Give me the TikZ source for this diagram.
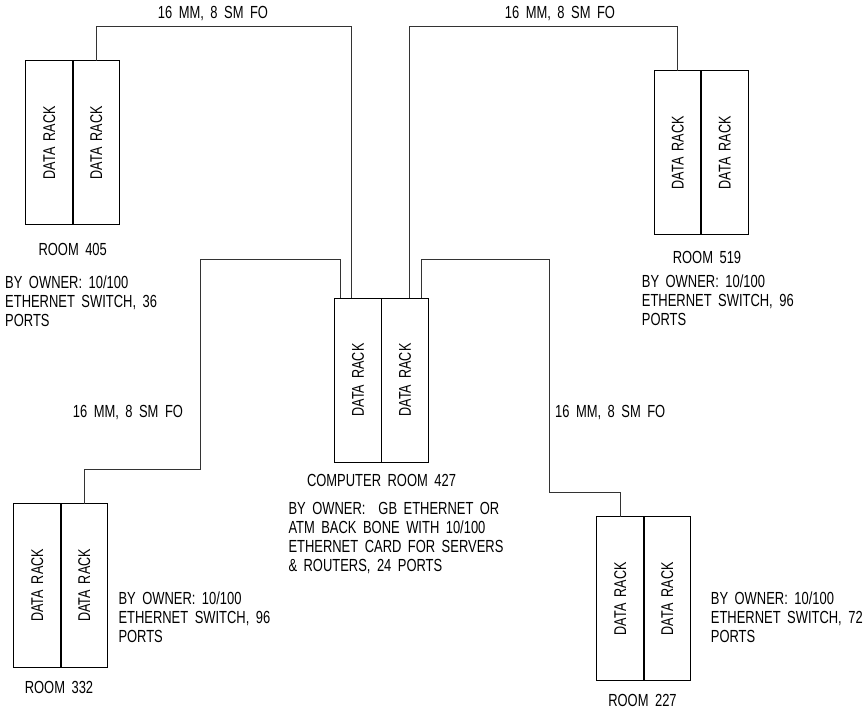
\documentclass[tikz,border=0pt]{standalone}
\usepackage{fontspec}
\setmainfont{Liberation Sans}[FakeStretch=0.74, WordSpace=1.8]
\usetikzlibrary{positioning}

\begin{document}
\begin{tikzpicture}[x=1pt, y=-1pt,
    rack/.style={draw, line width=0.8pt, minimum width=47pt, minimum height=164pt,
        inner sep=0pt, outer sep=0pt, font=\fontsize{17}{19}\selectfont},
    divider/.style={line width=1.6pt},
    cable/.style={line width=0.8pt, draw=black!80},
    txt/.style={inner sep=0pt, font=\fontsize{17.5}{19}\selectfont},
    note/.style={txt, align=left, anchor=north west}]

    \useasboundingbox (0,0) rectangle (865,709);

    % Racks, two per room
    \foreach \room/\x/\y in {405/49.3/142.8, 519/677.7/152.7, 427/358/380,
                             332/37.3/585.5, 227/620.2/598.8} {
        \node[rack] (ra\room) at (\x,\y) {\rotatebox{90}{DATA RACK}};
        \node[rack, right=0pt of ra\room] (rb\room) {\rotatebox{90}{DATA RACK}};
        \draw[divider] (ra\room.north east) -- (ra\room.south east);
    }

    % Fibre runs to the computer room
    \coordinate (t405) at (351.7,26.3);
    \draw[cable] (rb405.north) |- (t405) -- (t405 |- ra427.north);
    \coordinate (t519) at (409.7,26.3);
    \draw[cable] (ra519.north) |- (t519) -- (t519 |- rb427.north);
    \coordinate (k332) at (200.3,469);
    \coordinate (t332) at (340.3,259.7);
    \draw[cable] (rb332.north) |- (k332) |- (t332) -- (t332 |- ra427.north);
    \coordinate (k227) at (549.7,492.3);
    \coordinate (t227) at (421.7,259.7);
    \draw[cable] (ra227.north) |- (k227) |- (t227) -- (t227 |- rb427.north);

    % Cable labels
    \node[txt] (fo405) at (213,14) {16 MM, 8 SM FO};
    \node[txt] (fo519) at (560,14) {16 MM, 8 SM FO};
    \node[txt, anchor=west] (fo332) at (72.7,412.7) {16 MM, 8 SM FO};
    \node[txt, anchor=west] (fo227) at (555,412.7) {16 MM, 8 SM FO};

    % Room names
    \node[txt] (rm405) at (72.7,249) {ROOM 405};
    \node[txt] (rm519) at (707,257.3) {ROOM 519};
    \node[txt] (rm427) at (381.5,480) {COMPUTER ROOM 427};
    \node[txt] (rm332) at (59,687.7) {ROOM 332};
    \node[txt] (rm227) at (642.5,700) {ROOM 227};

    % Owner notes
    \node[note] (by405) at (5,276) {BY OWNER: 10/100\\ETHERNET SWITCH, 36\\PORTS};
    \node[note] (by519) at (641.7,275) {BY OWNER: 10/100\\ETHERNET SWITCH, 96\\PORTS};
    \node[note] (by427) at (288.3,502.3) {BY OWNER:\ \ GB ETHERNET OR\\ATM BACK BONE WITH 10/100\\ETHERNET CARD FOR SERVERS\\\& ROUTERS, 24 PORTS};
    \node[note] (by332) at (118.3,592) {BY OWNER: 10/100\\ETHERNET SWITCH, 96\\PORTS};
    \node[note] (by227) at (710.7,592) {BY OWNER: 10/100\\ETHERNET SWITCH, 72\\PORTS};

\end{tikzpicture}
\end{document}
